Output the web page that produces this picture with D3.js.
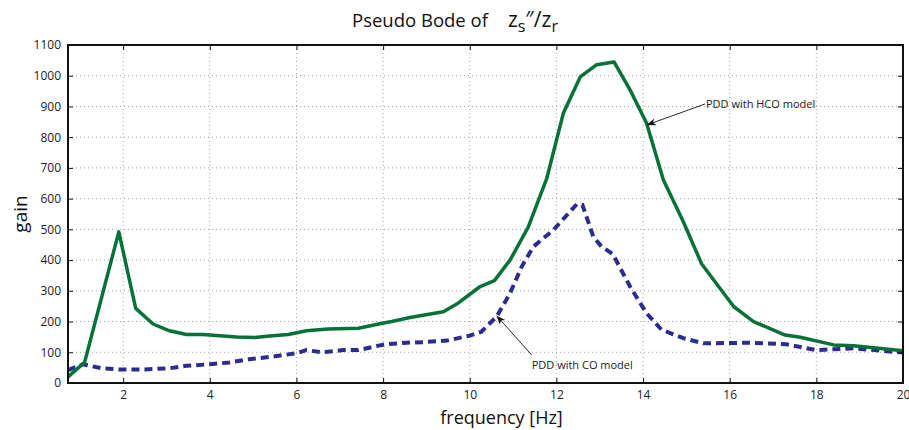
<!DOCTYPE html>
<html>
<head>
<meta charset="utf-8">
<script src="https://cdn.jsdelivr.net/npm/d3@7"></script>
<style>
  html, body { margin: 0; padding: 0; background: #fff; }
  svg { display: block; font-family: 'Open Sans', sans-serif; }
</style>
</head>
<body>
<svg id="chart" width="909" height="430"></svg>
<script>
// Frequencies [Hz] and gains
const freqHCO = [0.727, 1.11, 1.9, 2.29, 2.69, 3.07, 3.46, 3.84, 4.23, 4.62, 5.04, 5.38, 5.81, 6.23, 6.73,
  7.43, 8.04, 8.2, 8.62, 9.39, 9.7, 10.08, 10.24, 10.57, 10.93, 11.35, 11.78, 12.16, 12.55, 12.93,
  13.33, 13.7, 14.08, 14.47, 14.93, 15.35, 16.09, 16.55, 17.28, 17.63, 18.4, 18.86, 20];
const gainHCO = [20, 67, 492, 243, 192, 170, 158, 158, 154, 150, 148, 153, 158, 170, 176,
  178, 196, 200, 213, 232, 257, 297, 314, 333, 400, 507, 667, 878, 996, 1036,
  1045, 954, 846, 661, 525, 388, 249, 200, 156, 149, 124, 121, 105];

const freqCO = [0.727, 1.07, 1.5, 1.9, 2.5, 3.07, 3.46, 4.0, 4.46, 4.9, 5.46, 6.0, 6.23, 6.6, 7.08,
  7.43, 8.04, 8.54, 8.93, 9.47, 10.0, 10.27, 10.62, 10.93, 11.2, 11.47, 11.93, 12.47, 12.6, 12.85,
  13.04, 13.3, 13.7, 14.08, 14.43, 14.93, 15.39, 16.47, 17.3, 18.0, 18.86, 20];
const gainCO = [42, 61, 48, 44, 44, 48, 56, 61, 67, 77, 86, 97, 107, 100, 107,
  107, 126, 131, 133, 138, 154, 167, 216, 292, 379, 444, 498, 582, 580, 477,
  444, 420, 314, 227, 173, 146, 129, 131, 126, 107, 113, 99];

const xTicks = [2, 4, 6, 8, 10, 12, 14, 16, 18, 20];
const yTicks = [0, 100, 200, 300, 400, 500, 600, 700, 800, 900, 1000, 1100];

// annotations: text anchor and arrow tip, in data units
const noteHCO = { label: 'PDD with HCO model', tx: 15.43, ty: 908, px: 14.09, py: 840 };
const noteCO = { label: 'PDD with CO model', tx: 11.43, ty: 91, px: 10.62, py: 219 };

const svg = d3.select('#chart');
const width = 909, height = 430;
const padding = { top: 45, right: 6, bottom: 47, left: 68 };
const w = width - padding.left - padding.right;
const h = height - padding.top - padding.bottom;

const x = d3.scaleLinear().domain([0.727, 20]).range([0, w]);
const y = d3.scaleLinear().domain([0, 1100]).range([h, 0]);

svg.append('rect').attr('width', width).attr('height', height).attr('fill', '#fff');

svg.append('defs').append('marker')
  .attr('id', 'arrow')
  .attr('viewBox', '0 0 10 10')
  .attr('refX', 10).attr('refY', 5)
  .attr('markerWidth', 9).attr('markerHeight', 9)
  .attr('markerUnits', 'userSpaceOnUse')
  .attr('orient', 'auto')
  .append('path')
  .attr('d', 'M0,1 L10,5 L0,9 L3,5 Z')
  .attr('fill', '#111');

const canvas = svg.append('g')
  .attr('transform', `translate(${padding.left}, ${padding.top})`);

// dotted grid
canvas.append('g').attr('class', 'grid x')
  .selectAll('line').data(xTicks.filter(d => d < 20)).join('line')
  .attr('x1', d => x(d)).attr('x2', d => x(d))
  .attr('y1', 0).attr('y2', h)
  .attr('stroke', '#8a8a8a').attr('stroke-width', 0.8).attr('stroke-dasharray', '1,3');

canvas.append('g').attr('class', 'grid y')
  .selectAll('line').data(yTicks.filter(d => d > 0 && d < 1100)).join('line')
  .attr('x1', 0).attr('x2', w)
  .attr('y1', d => y(d)).attr('y2', d => y(d))
  .attr('stroke', '#8a8a8a').attr('stroke-width', 0.8).attr('stroke-dasharray', '1,3');

// curves
const line = d3.line().x(d => x(d[0])).y(d => y(d[1]));

canvas.append('path')
  .datum(d3.zip(freqCO, gainCO))
  .attr('d', line)
  .attr('fill', 'none')
  .attr('stroke', '#2b2d8e')
  .attr('stroke-width', 4)
  .attr('stroke-dasharray', '8,5');

canvas.append('path')
  .datum(d3.zip(freqHCO, gainHCO))
  .attr('d', line)
  .attr('fill', 'none')
  .attr('stroke', '#077238')
  .attr('stroke-width', 3.5)
  .attr('stroke-linejoin', 'round');

// axes: MATLAB style box with inward ticks on all sides
const tickStyle = g => {
  g.select('.domain').remove();
  g.selectAll('.tick line').attr('stroke', '#111').attr('stroke-width', 1);
  g.selectAll('.tick text').attr('fill', '#222').attr('font-size', 12)
    .attr('font-family', "'Open Sans', sans-serif");
};

canvas.append('g').attr('class', 'axis x')
  .attr('transform', `translate(0, ${h})`)
  .call(d3.axisBottom(x).tickValues(xTicks).tickFormat(d3.format('d')).tickSizeInner(-5).tickPadding(7))
  .call(tickStyle);

canvas.append('g').attr('class', 'axis x2')
  .call(d3.axisTop(x).tickValues(xTicks).tickSizeInner(-5).tickFormat(''))
  .call(tickStyle);

canvas.append('g').attr('class', 'axis y')
  .call(d3.axisLeft(y).tickValues(yTicks).tickFormat(d3.format('d')).tickSizeInner(-5).tickPadding(7))
  .call(tickStyle);

canvas.append('g').attr('class', 'axis y2')
  .attr('transform', `translate(${w}, 0)`)
  .call(d3.axisRight(y).tickValues(yTicks).tickSizeInner(-5).tickFormat(''))
  .call(tickStyle);

canvas.append('rect')
  .attr('width', w).attr('height', h)
  .attr('fill', 'none').attr('stroke', '#111').attr('stroke-width', 2);

// annotations
[noteHCO, noteCO].forEach(n => {
  canvas.append('line')
    .attr('x1', x(n.tx)).attr('y1', y(n.ty))
    .attr('x2', x(n.px)).attr('y2', y(n.py))
    .attr('stroke', '#111').attr('stroke-width', 0.9)
    .attr('marker-end', 'url(#arrow)');
});

canvas.append('text')
  .attr('x', x(noteHCO.tx) + 1).attr('y', y(noteHCO.ty) + 4)
  .attr('font-size', 11).attr('fill', '#222')
  .text(noteHCO.label);

canvas.append('text')
  .attr('x', x(noteCO.tx)).attr('y', y(noteCO.ty) + 14)
  .attr('font-size', 11).attr('fill', '#222')
  .text(noteCO.label);

// labels
svg.append('text')
  .attr('x', padding.left + w / 2 + 16).attr('y', 424)
  .attr('text-anchor', 'middle').attr('font-size', 18).attr('fill', '#111')
  .text('frequency [Hz]');

svg.append('text')
  .attr('transform', `translate(27, ${padding.top + h / 2}) rotate(-90)`)
  .attr('text-anchor', 'middle').attr('font-size', 19).attr('fill', '#111')
  .text('gain');

// title with sub-scripted symbols
const title = svg.append('text')
  .attr('x', 352).attr('y', 27)
  .attr('font-size', 18.5).attr('fill', '#111');
title.append('tspan').text('Pseudo Bode of');
title.append('tspan').attr('dx', 20).attr('font-size', 21).text('z');
title.append('tspan').attr('dy', 5).attr('font-size', 16).text('s');
title.append('tspan').attr('dy', -5).attr('font-size', 21).text('\u2033/z');
title.append('tspan').attr('dy', 5).attr('font-size', 16).text('r');
</script>
</body>
</html>
